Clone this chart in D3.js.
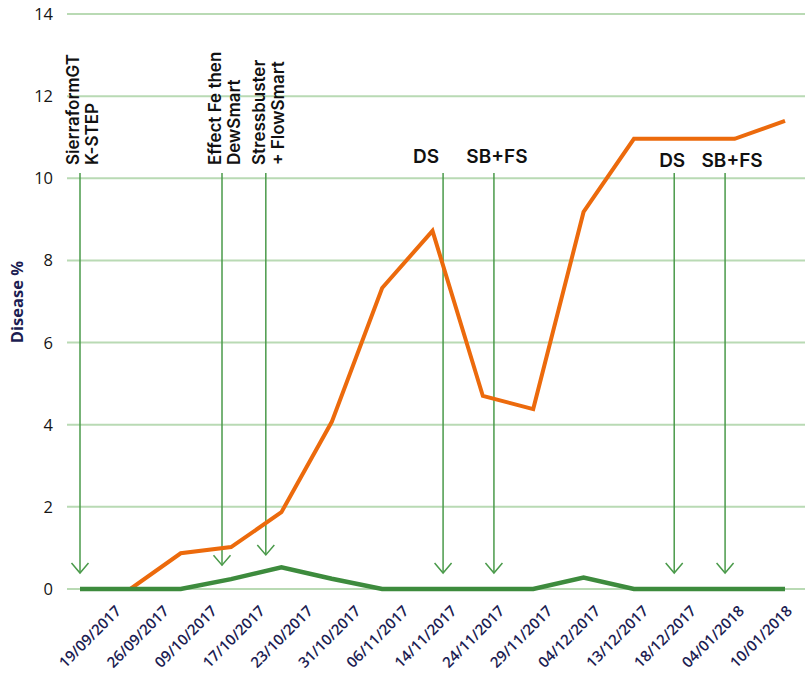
<!DOCTYPE html>
<html>
<head>
<meta charset="utf-8">
<script src="https://cdn.jsdelivr.net/npm/d3@7"></script>
<style>
  body { margin: 0; background: #fff; }
  svg { display: block; }
</style>
</head>
<body>
<div id="chart"></div>
<script>
// dates on the x axis
const dates = ['19/09/2017', '26/09/2017', '09/10/2017', '17/10/2017', '23/10/2017', '31/10/2017', '06/11/2017',
  '14/11/2017', '24/11/2017', '29/11/2017', '04/12/2017', '13/12/2017', '18/12/2017', '04/01/2018', '10/01/2018'];

// disease % per series
const orangeValues = [0, 0, 0.87, 1.02, 1.87, 4.07, 7.33, 8.72, 4.70, 4.38, 9.18, 10.96, 10.96, 10.96, 11.4];
const greenValues = [0, 0, 0, 0.24, 0.53, 0.25, 0, 0, 0, 0, 0.28, 0, 0, 0, 0];

const yTicks = [0, 2, 4, 6, 8, 10, 12, 14];

// treatment arrows (position in date index units, tip value in %)
const treatLines = [['SierraformGT', 'K-STEP'], ['Effect Fe then', 'DewSmart'], ['Stressbuster', '+ FlowSmart'],
  ['DS'], ['SB+FS'], ['DS'], ['SB+FS']];
const treatPos = [0, 2.82, 3.69, 7.21, 8.22, 11.8, 12.81];
const treatTip = [0.39, 0.58, 0.83, 0.39, 0.39, 0.39, 0.39];
const treatLabelPos = [6.87, 8.28, 11.76, 12.95];

const width = 808, height = 686;

const svg = d3.select('#chart').append('svg')
  .attr('width', width)
  .attr('height', height);

const x = d3.scalePoint().domain(dates).range([80, 785]);
const xi = d3.scaleLinear().domain([0, dates.length - 1]).range([80, 785]);
const xLabel = d3.scalePoint().domain(dates).range([122, 793]);
const y = d3.scaleLinear().domain([0, 14]).range([589, 14]);

// gridlines
svg.append('g')
  .selectAll('line')
  .data(yTicks)
  .join('line')
  .attr('x1', 67).attr('x2', 805)
  .attr('y1', d => y(d)).attr('y2', d => y(d))
  .attr('stroke', '#b9dab4')
  .attr('stroke-width', 2);

// y axis labels
svg.append('g')
  .selectAll('text')
  .data(yTicks)
  .join('text')
  .attr('x', 53)
  .attr('y', d => y(d))
  .attr('dy', '0.36em')
  .attr('text-anchor', 'end')
  .attr('font-family', 'Open Sans')
  .attr('font-size', 16.5)
  .attr('font-weight', 500)
  .attr('fill', '#151515')
  .text(d => d);

svg.append('text')
  .attr('transform', 'translate(23,302) rotate(-90)')
  .attr('text-anchor', 'middle')
  .attr('font-family', 'Open Sans')
  .attr('font-size', 16.5)
  .attr('font-weight', 700)
  .attr('fill', '#1c1d52')
  .text('Disease %');

// x axis labels
svg.append('g')
  .selectAll('text')
  .data(dates)
  .join('text')
  .attr('transform', d => `translate(${xLabel(d)},612) rotate(-45)`)
  .attr('text-anchor', 'end')
  .attr('font-family', 'Open Sans')
  .attr('font-size', 15)
  .attr('font-weight', 600)
  .attr('fill', '#1c1d52')
  .text(d => d);

// treatment arrows
const arrows = svg.append('g')
  .attr('stroke', '#4a9a4a')
  .attr('stroke-width', 1.5)
  .attr('fill', 'none');

treatPos.forEach((p, i) => {
  const ax = xi(p), ty = y(treatTip[i]);
  arrows.append('line')
    .attr('x1', ax).attr('x2', ax)
    .attr('y1', 173).attr('y2', ty);
  arrows.append('path')
    .attr('d', `M${ax - 8.5},${ty - 10}L${ax},${ty}L${ax + 8.5},${ty - 10}`);
});

// treatment labels
const labels = svg.append('g')
  .attr('font-family', 'Inter')
  .attr('font-size', 17)
  .attr('font-weight', 600)
  .attr('fill', '#111');

treatLines.forEach((lines, i) => {
  const ax = xi(treatPos[i]);
  if (lines.length === 2) {
    lines.forEach((t, j) => {
      labels.append('text')
        .attr('transform', `translate(${ax - 1 + j * 19},165) rotate(-90)`)
        .text(t);
    });
  } else {
    labels.append('text')
      .attr('x', xi(treatLabelPos[i - 3]))
      .attr('y', i < 5 ? 163 : 167)
      .attr('text-anchor', 'middle')
      .attr('font-size', 19)
      .text(lines[0]);
  }
});

// series lines
const line = d3.line()
  .x((d, i) => x(dates[i]))
  .y(d => y(d));

svg.append('path')
  .datum(orangeValues)
  .attr('d', line)
  .attr('fill', 'none')
  .attr('stroke', '#ec6a0c')
  .attr('stroke-width', 4);

svg.append('path')
  .datum(greenValues)
  .attr('d', line)
  .attr('fill', 'none')
  .attr('stroke', '#3d8b3d')
  .attr('stroke-width', 4.5);
</script>
</body>
</html>
